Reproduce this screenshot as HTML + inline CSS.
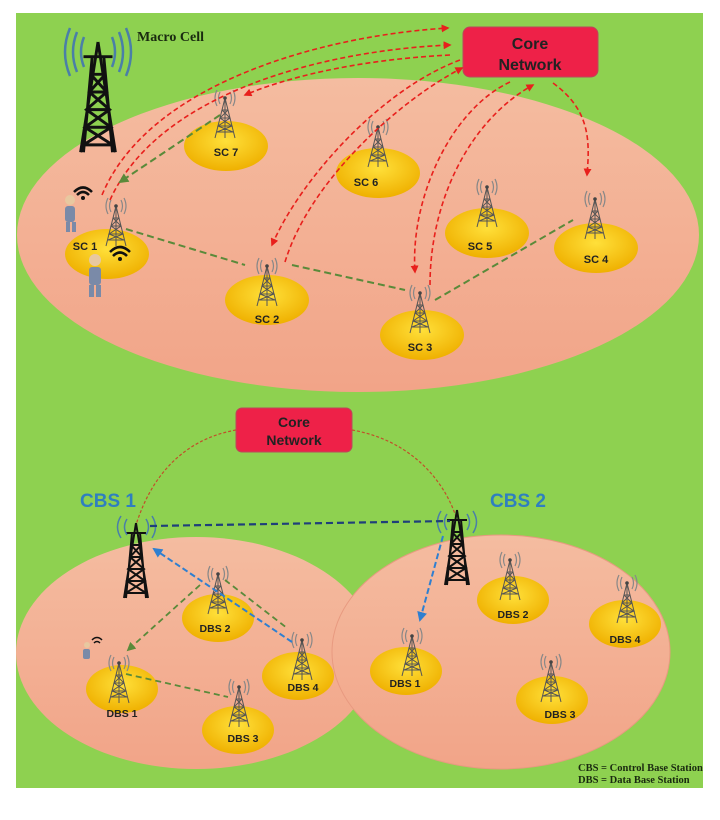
<!DOCTYPE html>
<html><head><meta charset="utf-8"><style>
body{margin:0;background:#fff;width:720px;height:820px;overflow:hidden}
svg{display:block}
</style></head><body>
<svg width="720" height="820" viewBox="0 0 720 820" xmlns="http://www.w3.org/2000/svg" font-family="Liberation Sans, sans-serif">
<defs>
<radialGradient id="yg" cx="50%" cy="40%" r="60%"><stop offset="0" stop-color="#ffe03a"/><stop offset="1" stop-color="#efb000"/></radialGradient>
<linearGradient id="pk" x1="0" y1="0" x2="0" y2="1"><stop offset="0" stop-color="#f4bca0"/><stop offset="1" stop-color="#f2a488"/></linearGradient>
<g id="st">
<path d="M0,0 L-10,40 M0,0 L10,40 M-3,12 L3,12 M-5,20 L5,20 M-7,28 L7,28 M-8,34 L8,34 M-3,12 L5,20 L-7,28 L8,34 M3,12 L-5,20 L7,28 L-8,34 M0,0 V40" stroke="#555" stroke-width="1" fill="none"/>
<path d="M-5,-6 Q-8,0 -5,6 M5,-6 Q8,0 5,6 M-8,-8 Q-12,0 -8,8 M8,-8 Q12,0 8,8" stroke="#888" stroke-width="1.2" fill="none"/>
<circle r="1.8" fill="#444"/>
</g>
<g id="bt">
<path d="M0,0 L-12,75 M0,0 L12,75 M-10,10 H10 M-4,10 L-10,75 M4,10 L10,75 M-5,22 H5 M-6,34 H6 M-8,46 H8 M-9,58 H9 M-10,70 H10 M-5,22 L6,34 L-8,46 L9,58 L-10,70 M5,22 L-6,34 L8,46 L-9,58 L10,70" stroke="#111" stroke-width="2" fill="none"/>
</g>
<marker id="ar" viewBox="0 0 10 10" refX="8" refY="5" markerWidth="5" markerHeight="5" orient="auto"><path d="M0,0 L10,5 L0,10z" fill="#e8201c"/></marker>
<marker id="ag" viewBox="0 0 10 10" refX="8" refY="5" markerWidth="5" markerHeight="5" orient="auto"><path d="M0,0 L10,5 L0,10z" fill="#5a8a3a"/></marker>
<marker id="ab" viewBox="0 0 10 10" refX="8" refY="5" markerWidth="5" markerHeight="5" orient="auto"><path d="M0,0 L10,5 L0,10z" fill="#2f7fd0"/></marker>
</defs>
<rect x="16" y="13" width="687" height="775" fill="#8ed150"/>
<ellipse cx="358" cy="235" rx="341" ry="157" fill="url(#pk)"/>
<ellipse cx="196" cy="653" rx="180" ry="116" fill="url(#pk)"/>
<ellipse cx="501" cy="652" rx="169" ry="117" fill="url(#pk)" stroke="#e89a80" stroke-width="1"/>

<!-- macro tower -->
<g transform="translate(98,42) scale(1.45,1.47)"><use href="#bt"/></g>
<path d="M84,37 Q78,52 84,67 M77,32 Q69,52 77,72 M70,28 Q60,52 70,76 M112,37 Q118,52 112,67 M119,32 Q127,52 119,72 M126,28 Q136,52 126,76" stroke="#4a7fa8" stroke-width="2.5" fill="none"/>
<text x="137" y="41" style="font-family:'Liberation Serif',serif" font-weight="bold" font-size="14" fill="#1a2a10">Macro Cell</text>

<!-- core network top -->
<rect x="463" y="27" width="135" height="50" rx="7" fill="#ee2148" stroke="#b84a5a"/>
<text x="530" y="49" text-anchor="middle" font-weight="bold" font-size="16" fill="#222">Core</text>
<text x="530" y="70" text-anchor="middle" font-weight="bold" font-size="16" fill="#222">Network</text>

<!-- small cells -->
<g font-weight="bold" font-size="11" fill="#222" text-anchor="middle">
<ellipse cx="226" cy="146" rx="42" ry="25" fill="url(#yg)"/><use href="#st" x="225" y="98"/><text x="226" y="156">SC 7</text>
<ellipse cx="378" cy="173" rx="42" ry="25" fill="url(#yg)"/><use href="#st" x="378" y="127"/><text x="366" y="186">SC 6</text>
<ellipse cx="487" cy="233" rx="42" ry="25" fill="url(#yg)"/><use href="#st" x="487" y="187"/><text x="480" y="250">SC 5</text>
<ellipse cx="596" cy="248" rx="42" ry="25" fill="url(#yg)"/><use href="#st" x="595" y="199"/><text x="596" y="263">SC 4</text>
<ellipse cx="422" cy="335" rx="42" ry="25" fill="url(#yg)"/><use href="#st" x="420" y="293"/><text x="420" y="351">SC 3</text>
<ellipse cx="267" cy="300" rx="42" ry="25" fill="url(#yg)"/><use href="#st" x="267" y="266"/><text x="267" y="323">SC 2</text>
<ellipse cx="107" cy="254" rx="42" ry="25" fill="url(#yg)"/><use href="#st" x="116" y="206"/><text x="85" y="250">SC 1</text>
</g>
<!-- users -->
<g fill="#7a8aa8"><circle cx="70" cy="200" r="5" fill="#e8c8a0"/><rect x="65" y="206" width="10" height="16" rx="3"/><rect x="66" y="222" width="4" height="10"/><rect x="72" y="222" width="4" height="10"/>
<circle cx="95" cy="260" r="6" fill="#e8c8a0"/><rect x="89" y="267" width="12" height="18" rx="3"/><rect x="89" y="285" width="5" height="12"/><rect x="96" y="285" width="5" height="12"/></g>
<path d="M74,192 Q83,183 92,192 M77,195 Q83,189 89,195" stroke="#111" stroke-width="2.5" fill="none"/><circle cx="83" cy="198" r="2" fill="#111"/>
<path d="M110,252 Q120,242 130,252 M113,256 Q120,249 127,256" stroke="#111" stroke-width="2.5" fill="none"/><circle cx="120" cy="259" r="2" fill="#111"/>

<!-- red arrows top -->
<g stroke="#e8201c" stroke-width="1.6" stroke-dasharray="5,3" fill="none" marker-end="url(#ar)">
<path d="M102,195 C150,80 330,35 448,28"/>
<path d="M110,200 C160,90 330,50 450,45"/>
<path d="M450,55 C350,60 280,80 245,95"/>
<path d="M460,60 C380,90 300,180 272,245"/>
<path d="M285,262 C310,180 400,100 462,68"/>
<path d="M510,82 C450,110 410,200 415,272"/>
<path d="M430,285 C430,200 470,120 533,85"/>
<path d="M553,83 C590,110 590,140 587,175"/>
</g>
<g stroke="#5a8a3a" stroke-width="2" stroke-dasharray="7,4" fill="none">
<path d="M220,115 L120,182" marker-end="url(#ag)"/>
<path d="M126,229 L245,265 M292,265 L405,290 M435,300 L573,220"/>
</g>

<!-- bottom -->
<rect x="236" y="408" width="116" height="44" rx="6" fill="#ee2148" stroke="#b84a5a"/>
<text x="294" y="427" text-anchor="middle" font-weight="bold" font-size="14" fill="#222">Core</text>
<text x="294" y="445" text-anchor="middle" font-weight="bold" font-size="14" fill="#222">Network</text>
<g stroke="#c0502a" stroke-width="1.2" stroke-dasharray="3,2" fill="none">
<path d="M236,430 C180,440 150,480 136,525"/><path d="M352,430 C410,440 445,480 457,520"/>
</g>
<text x="80" y="507" font-weight="bold" font-size="19" fill="#2f7fc0">CBS 1</text>
<text x="490" y="507" font-weight="bold" font-size="19" fill="#2f7fc0">CBS 2</text>
<use href="#bt" x="136" y="523"/>
<use href="#bt" x="457" y="510"/>
<path d="M127,519 Q122,527 127,535 M121,516 Q114,527 121,538 M146,519 Q151,527 146,535 M152,516 Q159,527 152,538" stroke="#4a7fa8" stroke-width="1.5" fill="none"/>
<path d="M447,514 Q442,522 447,530 M441,511 Q434,522 441,533 M467,514 Q472,522 467,530 M473,511 Q480,522 473,533" stroke="#4a7fa8" stroke-width="1.5" fill="none"/>
<path d="M150,526 L450,521" stroke="#1f3f7a" stroke-width="2.2" stroke-dasharray="7,4"/>
<g font-weight="bold" font-size="10.5" fill="#222" text-anchor="middle">
<ellipse cx="218" cy="618" rx="36" ry="24" fill="url(#yg)"/><use href="#st" x="218" y="574"/><text x="215" y="632">DBS 2</text>
<ellipse cx="298" cy="676" rx="36" ry="24" fill="url(#yg)"/><use href="#st" x="302" y="640"/><text x="303" y="691">DBS 4</text>
<ellipse cx="122" cy="689" rx="36" ry="24" fill="url(#yg)"/><use href="#st" x="119" y="663"/><text x="122" y="717">DBS 1</text>
<ellipse cx="238" cy="730" rx="36" ry="24" fill="url(#yg)"/><use href="#st" x="239" y="687"/><text x="243" y="742">DBS 3</text>
<ellipse cx="406" cy="671" rx="36" ry="24" fill="url(#yg)"/><use href="#st" x="412" y="636"/><text x="405" y="687">DBS 1</text>
<ellipse cx="513" cy="600" rx="36" ry="24" fill="url(#yg)"/><use href="#st" x="510" y="560"/><text x="513" y="618">DBS 2</text>
<ellipse cx="625" cy="624" rx="36" ry="24" fill="url(#yg)"/><use href="#st" x="627" y="583"/><text x="625" y="643">DBS 4</text>
<ellipse cx="552" cy="700" rx="36" ry="24" fill="url(#yg)"/><use href="#st" x="551" y="662"/><text x="560" y="718">DBS 3</text>
</g>
<circle cx="87" cy="645" r="3" fill="#e8c8a0"/><rect x="83" y="649" width="7" height="10" rx="2" fill="#7a8aa8"/>
<path d="M92,640 Q97,635 102,640 M94,643 Q97,640 100,643" stroke="#111" stroke-width="1.5" fill="none"/>
<g stroke="#5a8a3a" stroke-width="1.8" stroke-dasharray="6,4" fill="none">
<path d="M200,585 L128,650" marker-end="url(#ag)"/>
<path d="M225,580 L287,628 M126,674 L228,697"/>
</g>
<g stroke="#2f7fd0" stroke-width="2" stroke-dasharray="6,3" fill="none">
<path d="M292,642 L154,549" marker-end="url(#ab)"/>
<path d="M443,536 L420,620" marker-end="url(#ab)"/>
</g>
<text x="578" y="771" style="font-family:'Liberation Serif',serif" font-weight="bold" font-size="10.5" fill="#1a2a10">CBS = Control Base Station</text>
<text x="578" y="783" style="font-family:'Liberation Serif',serif" font-weight="bold" font-size="10.5" fill="#1a2a10">DBS = Data Base Station</text>
</svg>
</body></html>
